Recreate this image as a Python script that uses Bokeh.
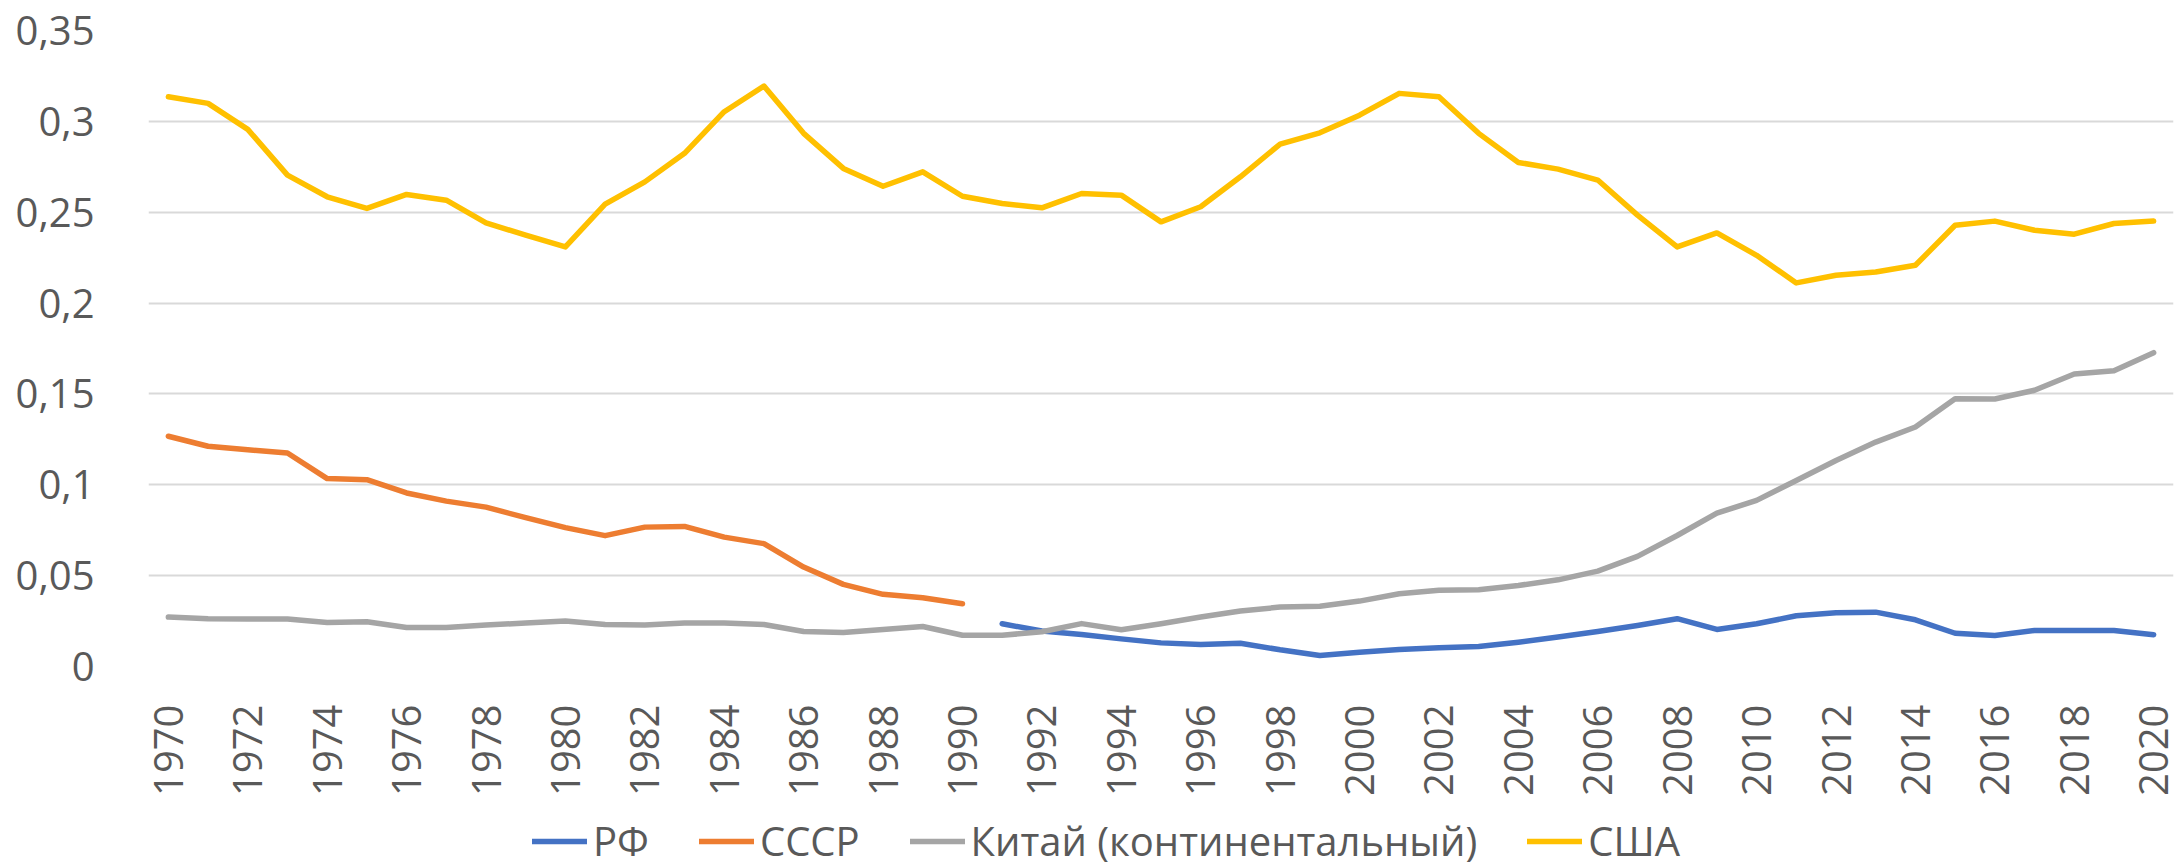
import numpy as np
from bokeh.plotting import figure
from bokeh.layouts import column
from bokeh.models import FixedTicker, Legend, LegendItem, Range1d
from bokeh.embed import file_html
from bokeh.resources import INLINE

# ---------------- data ----------------
years = list(range(1970, 2021))
ussr_years = list(range(1970, 1991))
rf_years = list(range(1991, 2021))

usa = [0.3135, 0.3099, 0.2956, 0.2704, 0.2585, 0.2521, 0.2598, 0.2566, 0.2441, 0.2374,
       0.2309, 0.2544, 0.2667, 0.2824, 0.3053, 0.3194, 0.2934, 0.2741, 0.2643, 0.2722,
       0.2588, 0.2548, 0.2524, 0.2603, 0.2594, 0.2447, 0.2530, 0.2695, 0.2875, 0.2937,
       0.3034, 0.3154, 0.3135, 0.2934, 0.2774, 0.2737, 0.2677, 0.2484, 0.2309, 0.2386,
       0.2263, 0.2111, 0.2153, 0.2171, 0.2208, 0.2428, 0.2451, 0.2401, 0.2379, 0.2438,
       0.2451]

ussr = [0.1267, 0.1212, 0.1193, 0.1175, 0.1034, 0.1028, 0.0955, 0.0910, 0.0877, 0.0819,
        0.0764, 0.0720, 0.0767, 0.0771, 0.0712, 0.0676, 0.0547, 0.0452, 0.0397, 0.0378,
        0.0345]

china = [0.0272, 0.0263, 0.0261, 0.0261, 0.0242, 0.0246, 0.0215, 0.0215, 0.0228, 0.0239,
         0.0250, 0.0231, 0.0229, 0.0239, 0.0239, 0.0231, 0.0193, 0.0187, 0.0204, 0.0220,
         0.0172, 0.0172, 0.0191, 0.0236, 0.0202, 0.0235, 0.0272, 0.0305, 0.0327, 0.0332,
         0.0360, 0.0400, 0.0419, 0.0422, 0.0446, 0.0477, 0.0525, 0.0606, 0.0721, 0.0844,
         0.0914, 0.1024, 0.1134, 0.1235, 0.1318, 0.1474, 0.1472, 0.1520, 0.1610, 0.1627,
         0.1727]

rf = [0.0235, 0.0195, 0.0176, 0.0152, 0.0130, 0.0121, 0.0128, 0.0092, 0.0061, 0.0079,
      0.0094, 0.0103, 0.0110, 0.0134, 0.0162, 0.0193, 0.0226, 0.0263, 0.0204, 0.0235,
      0.0279, 0.0296, 0.0299, 0.0257, 0.0183, 0.0171, 0.0198, 0.0198, 0.0198, 0.0175]

series_names = ["РФ", "СССР", "Китай (континентальный)", "США"]
y_ticks = [0, 0.05, 0.10, 0.15, 0.20, 0.25, 0.30, 0.35]
y_tick_labels = ["0", "0,05", "0,1", "0,15", "0,2", "0,25", "0,3", "0,35"]
x_ticks = years[::2]

# ---------------- styling ----------------
FONT = "Open Sans"
TXT = "#595959"
COLORS = ["#4472C4", "#ED7D31", "#A5A5A5", "#FFC000"]
LW = 5.5

p = figure(width=2183, height=800,
           x_range=Range1d(1969.5, 2020.5), y_range=Range1d(0, 0.35),
           output_backend="svg", toolbar_location=None,
           min_border_left=148, min_border_right=10,
           min_border_top=30, min_border_bottom=134)
p.outline_line_color = None

series = [(rf_years, rf), (ussr_years, ussr), (years, china), (years, usa)]
for (xs, ys), col in zip(series, COLORS):
    p.line(xs, ys, line_color=col, line_width=LW, line_join="round", line_cap="round")

# y axis
yax = p.yaxis[0]
yax.ticker = FixedTicker(ticks=y_ticks)
yax.major_label_overrides = {t: l for t, l in zip(y_ticks, y_tick_labels)}
yax.axis_line_color = None
yax.major_tick_line_color = None
yax.minor_tick_line_color = None
yax.major_label_standoff = 48
yax.major_label_text_font = FONT
yax.major_label_text_font_size = "40px"
yax.major_label_text_color = TXT

# x axis
xax = p.xaxis[0]
xax.ticker = FixedTicker(ticks=x_ticks)
xax.major_label_overrides = {t: str(t) for t in x_ticks}
xax.axis_line_color = None
xax.major_tick_line_color = None
xax.minor_tick_line_color = None
xax.major_label_orientation = np.pi / 2
xax.major_label_standoff = 32
xax.major_label_text_font = FONT
xax.major_label_text_font_size = "40px"
xax.major_label_text_color = TXT

# grid
p.xgrid.grid_line_color = None
p.ygrid.ticker = FixedTicker(ticks=y_ticks)
p.ygrid.grid_line_color = "#d9d9d9"
p.ygrid.grid_line_width = 2

# ---------------- legend strip below the chart ----------------
# same series drawn again, but outside this strip's visible range: only the legend shows
lg = figure(width=2183, height=68, x_range=Range1d(0, 1), y_range=Range1d(0, 1),
            output_backend="svg", toolbar_location=None,
            x_axis_location=None, y_axis_location=None,
            min_border_left=148, min_border_right=10, min_border_top=0, min_border_bottom=0)
lg.outline_line_color = None
lg.xgrid.visible = False
lg.ygrid.visible = False

items = []
for name, (xs, ys), col in zip(series_names, series, COLORS):
    r = lg.line(xs, ys, line_color=col, line_width=LW, line_cap="round")
    items.append(LegendItem(label=name, renderers=[r]))

legend = Legend(items=items, orientation="horizontal", location=(384, 0),
                label_text_font=FONT, label_text_font_size="40px", label_text_color=TXT,
                glyph_width=55, glyph_height=20, label_standoff=6, spacing=50,
                padding=0, margin=0, border_line_color=None, background_fill_alpha=0)
lg.add_layout(legend)

layout = column(p, lg, spacing=0)
open("out.html", "w").write(file_html(layout, INLINE))
